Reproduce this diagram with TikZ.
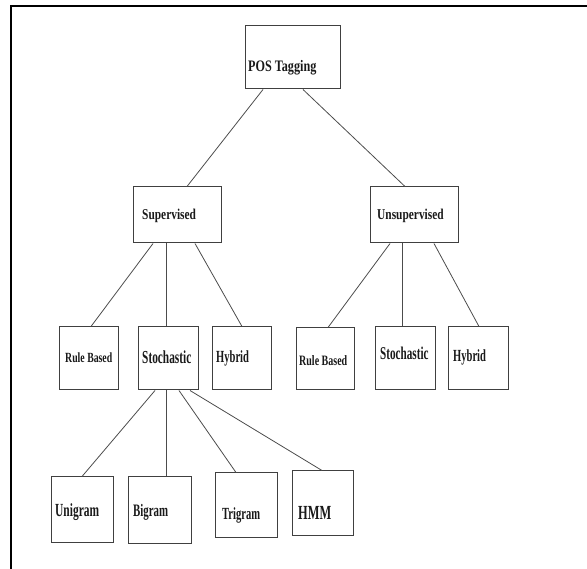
\documentclass[tikz,border=0pt]{standalone}
\usepackage{fontspec}
\setmainfont{Liberation Serif}
% condensed bold serif faces used for the labels
\newfontfamily\wideface[FakeStretch=0.76]{Liberation Serif}
\newfontfamily\midface[FakeStretch=0.70]{Liberation Serif}
\newfontfamily\narrowface[FakeStretch=0.62]{Liberation Serif}
\newcommand{\lblW}[2]{\wideface\fontsize{#1}{#1}\selectfont\bfseries #2}
\newcommand{\lblM}[2]{\midface\fontsize{#1}{#1}\selectfont\bfseries #2}
\newcommand{\lblN}[2]{\narrowface\fontsize{#1}{#1}\selectfont\bfseries #2}
\begin{document}
\begin{tikzpicture}[x=1pt,y=-1pt,
  box/.style={draw=black!75, line width=1pt, fill=none, inner sep=0pt},
  txt/.style={inner sep=0pt, anchor=base west, text=black!90},
  link/.style={draw=black!70, line width=0.8pt}]
\useasboundingbox (0,0) rectangle (587,569);
% page frame
\draw[line width=2pt] (10.5,569) -- (10.5,6.5) -- (587,6.5);

% boxes
\node[box, minimum width=95, minimum height=63] (pos) at (292.5,57.5) {};
\node[box, minimum width=88, minimum height=56] (sup) at (177,215) {};
\node[box, minimum width=88, minimum height=56] (uns) at (414,215) {};
\node[box, minimum width=59, minimum height=63] (rbL) at (88.5,358.5) {};
\node[box, minimum width=60, minimum height=63] (stL) at (168,358.5) {};
\node[box, minimum width=59, minimum height=63] (hyL) at (241.5,358.5) {};
\node[box, minimum width=58, minimum height=62] (rbR) at (325,359) {};
\node[box, minimum width=60, minimum height=63] (stR) at (405,358.5) {};
\node[box, minimum width=60, minimum height=63] (hyR) at (478,358.5) {};
\node[box, minimum width=62, minimum height=65] (uni) at (82,509.5) {};
\node[box, minimum width=63, minimum height=66] (big) at (159.5,510) {};
\node[box, minimum width=62, minimum height=64] (tri) at (246,505) {};
\node[box, minimum width=61, minimum height=64] (hmm) at (322.5,503) {};

% labels
\node[txt] (posT) at (248,72)  {\lblW{16}{POS Tagging}};
\node[txt] (supT) at (142,220) {\lblW{15}{Supervised}};
\node[txt] (unsT) at (377,220) {\lblW{15}{Unsupervised}};
\node[txt] (rbLT) at (65,363)  {\lblM{14}{Rule Based}};
\node[txt] (stLT) at (142,364) {\lblN{18.3}{Stochastic}};
\node[txt] (hyLT) at (216,363) {\lblN{17}{Hybrid}};
\node[txt] (rbRT) at (299,366) {\lblM{14.3}{Rule Based}};
\node[txt] (stRT) at (380,360) {\lblN{18}{Stochastic}};
\node[txt] (hyRT) at (453,362) {\lblN{17}{Hybrid}};
\node[txt] (uniT) at (55,517)  {\lblN{18.5}{Unigram}};
\node[txt] (bigT) at (133,517) {\lblN{17.5}{Bigram}};
\node[txt] (triT) at (222,519) {\lblN{17}{Trigram}};
\node[txt] (hmmT) at (298,519) {\lblN{20}{HMM}};

% connectors
\draw[link] ([xshift=-29.5]pos.south) -- ([xshift=10]sup.north);
\draw[link] ([xshift=10.5]pos.south) -- ([xshift=-9]uns.north);
\draw[link] ([xshift=-24]sup.south) -- ([xshift=2.5]rbL.north);
\draw[link] ([xshift=-11]sup.south) -- ([xshift=-2]stL.north);
\draw[link] ([xshift=18]sup.south) -- ([xshift=0.5]hyL.north);
\draw[link] ([xshift=-24]uns.south) -- ([xshift=3]rbR.north);
\draw[link] ([xshift=-12]uns.south) -- ([xshift=-3]stR.north);
\draw[link] ([xshift=20]uns.south) -- ([xshift=1]hyR.north);
\draw[link] ([xshift=-13]stL.south) -- (uni.north);
\draw[link] ([xshift=-2]stL.south) -- ([xshift=6.5]big.north);
\draw[link] ([xshift=11]stL.south) -- ([xshift=-10]tri.north);
\draw[link] ([xshift=22]stL.south) -- ([xshift=-0.5]hmm.north);
\end{tikzpicture}
\end{document}
